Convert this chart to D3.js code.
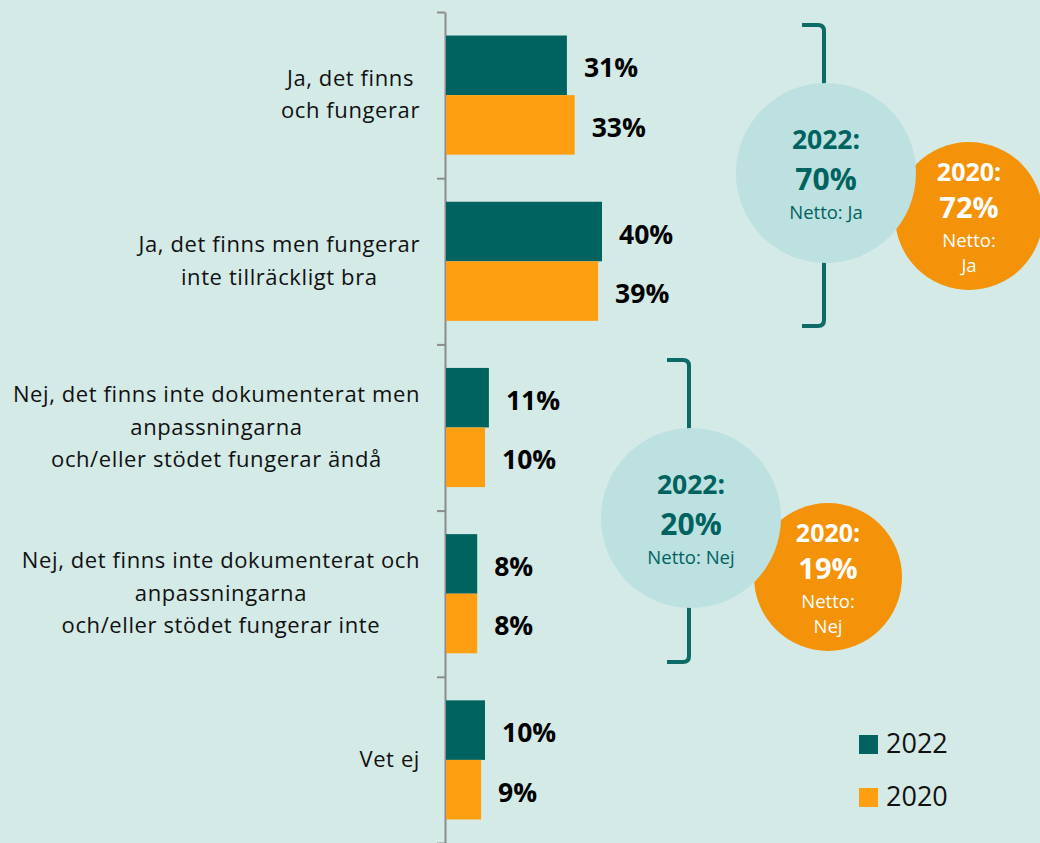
<!DOCTYPE html>
<html><head><meta charset="utf-8">
<script src="https://cdn.jsdelivr.net/npm/d3@7"></script>
<style>
html,body{margin:0;padding:0;background:#d3eae7;}
svg{display:block;}
text{font-family:"Open Sans",sans-serif;}
</style></head>
<body>
<svg id="c" width="1040" height="843"></svg>
<script>
const categories = [
  "Ja, det finns\noch fungerar",
  "Ja, det finns men fungerar\ninte tillräckligt bra",
  "Nej, det finns inte dokumenterat men\nanpassningarna\noch/eller stödet fungerar ändå",
  "Nej, det finns inte dokumenterat och\nanpassningarna\noch/eller stödet fungerar inte",
  "Vet ej"
];
const seriesNames = ["2022", "2020"];
const values2022 = [31, 40, 11, 8, 10];
const values2020 = [33, 39, 10, 8, 9];
const netTitles = ["Ja", "Nej"];
const net2022 = [70, 20];
const net2020 = [72, 19];

const C_TEAL = "#00635f", C_ORANGE = "#fd9f10", C_ORANGE_C = "#f49209", C_CIRCLE = "#bde0e0", C_BRACKET = "#0c6b66";

const svg = d3.select("#c");
svg.append("rect").attr("width",1040).attr("height",843).attr("fill","#d3eae7");

const y = d3.scaleBand().domain(d3.range(categories.length)).range([12, 843]).padding(0);
const ySub = d3.scaleBand().domain(seriesNames).range([0, y.bandwidth()]).paddingInner(0).paddingOuter(0.395);
const x = d3.scaleLinear().domain([0, 100]).range([446, 446 + 390]);

// axis
const yIdx = d3.scaleLinear().domain([0, categories.length]).range([12, 843]);
const axis = d3.axisLeft(yIdx).tickValues(d3.range(categories.length + 1)).tickSize(8).tickSizeOuter(0).tickFormat("");
const ag = svg.append("g").attr("transform","translate(445,0)").call(axis);
ag.selectAll("path,line").attr("stroke","#8c8c8c").attr("stroke-width",2);

// bars
const rows = categories.map((c,i)=>({i, vals:[{s:"2022",v:values2022[i]},{s:"2020",v:values2020[i]}]}));
const g = svg.append("g");
rows.forEach(r=>{
  r.vals.forEach(d=>{
    const yy = y(r.i) + ySub(d.s);
    g.append("rect").attr("x", x(0)).attr("y", yy).attr("width", x(d.v)-x(0)).attr("height", ySub.bandwidth())
      .attr("fill", d.s==="2022" ? C_TEAL : C_ORANGE);
    g.append("text").attr("x", x(d.v)+17).attr("y", yy + ySub.bandwidth()/2 + 12)
      .attr("font-size", 26.5).attr("font-weight", 700).attr("fill","#000").text(d.v + "%");
  });
});

// category labels
categories.forEach((c,i)=>{
  const lines = c.split("\n");
  const t = svg.append("text").attr("font-size",22).attr("letter-spacing","0.6px").attr("fill","#111").attr("text-anchor","middle");
  const cy = y(i) + y.bandwidth()/2;
  const ts = lines.map((l,k)=> t.append("tspan").attr("y", cy + 7 + (k-(lines.length-1)/2)*32.5).text(l));
  let maxW = 0; ts.forEach(s=>{maxW=Math.max(maxW, s.node().getComputedTextLength());});
  ts.forEach(s=>s.attr("x", 420 - maxW/2));
});

// brackets + circles
function bracket(bx, y0, y1){
  const r = 6, w = 22;
  svg.append("path").attr("d",
    `M${bx-w},${y0} L${bx-r},${y0} Q${bx},${y0} ${bx},${y0+r} L${bx},${y1-r} Q${bx},${y1} ${bx-r},${y1} L${bx-w},${y1}`)
    .attr("fill","none").attr("stroke",C_BRACKET).attr("stroke-width",4);
}
const netLayout = [
  {bx:824, y0:25, y1:326, cx:826, cy:173, ox:969, oy:216},
  {bx:689, y0:360, y1:662, cx:691, cy:518, ox:828, oy:577}
];
netLayout.forEach((L,k)=>{
  bracket(L.bx, L.y0, L.y1);
  svg.append("circle").attr("cx",L.ox).attr("cy",L.oy).attr("r",74).attr("fill",C_ORANGE_C);
  svg.append("circle").attr("cx",L.cx).attr("cy",L.cy).attr("r",90).attr("fill",C_CIRCLE);
  const t1 = svg.append("g").attr("text-anchor","middle").attr("fill",C_TEAL);
  t1.append("text").attr("x",L.cx).attr("y",L.cy-24).attr("font-size",26.5).attr("font-weight",700).text(seriesNames[0]+":");
  t1.append("text").attr("x",L.cx).attr("y",L.cy+17).attr("font-size",30).attr("font-weight",700).text(net2022[k]+"%");
  t1.append("text").attr("x",L.cx).attr("y",L.cy+46).attr("font-size",18.5).text("Netto: "+netTitles[k]);
  const t2 = svg.append("g").attr("text-anchor","middle").attr("fill","#fff");
  t2.append("text").attr("x",L.ox).attr("y",L.oy-35).attr("font-size",25).attr("font-weight",700).text(seriesNames[1]+":");
  t2.append("text").attr("x",L.ox).attr("y",L.oy+2).attr("font-size",29).attr("font-weight",700).text(net2020[k]+"%");
  t2.append("text").attr("x",L.ox).attr("y",L.oy+31).attr("font-size",18.5).text("Netto:");
  t2.append("text").attr("x",L.ox).attr("y",L.oy+56).attr("font-size",18.5).text(netTitles[k]);
});

// legend
const lg = svg.append("g");
seriesNames.forEach((s,i)=>{
  lg.append("rect").attr("x",859).attr("y",735+i*53).attr("width",19).attr("height",19).attr("fill", i===0?C_TEAL:C_ORANGE);
  lg.append("text").attr("x",886).attr("y",753+i*53).attr("font-size",27).attr("fill","#111").text(s);
});
</script>
</body></html>
